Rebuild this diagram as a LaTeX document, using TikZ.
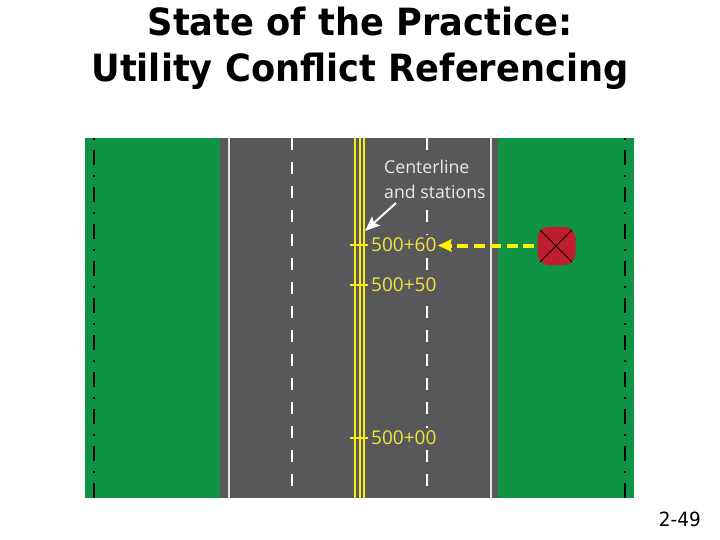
\documentclass[tikz,border=0pt]{standalone}
\usepackage{fontspec}
\setmainfont{DejaVu Sans}
\newfontfamily\condfont[FakeStretch=0.94]{DejaVu Sans}
\newfontfamily\labelfont{Open Sans}
\usetikzlibrary{arrows.meta}
\definecolor{verge}{HTML}{0F9345}
\definecolor{asphalt}{HTML}{58585A}
\definecolor{stripe}{HTML}{F7EC13}
\definecolor{markyellow}{HTML}{F0E63A}
\definecolor{tag}{HTML}{BE1E2D}
\tikzset{
  titletext/.style={font=\condfont\fontsize{37.5}{40}\selectfont\bfseries,text=black,inner sep=0pt,anchor=base},
  whitetext/.style={font=\labelfont\fontsize{17.7}{25}\selectfont,text=white!92!black,inner sep=0pt,align=left,anchor=west,fill=asphalt},
  stationtext/.style={font=\labelfont\fontsize{19}{20}\selectfont,text=markyellow,inner sep=0pt,anchor=west,fill=asphalt,minimum height=21pt},
  edgeline/.style={draw=white!90!black,line width=2pt},
  lanedash/.style={draw=white,line width=2.4pt,dash pattern=on 12pt off 12pt},
  rowline/.style={draw=black,line width=2pt,dash pattern=on 15pt off 10pt on 2pt off 10pt,dash phase=25pt},
  cline/.style={draw=stripe,line width=2.2pt},
  tick/.style={draw=stripe,line width=2pt},
}
\begin{document}
\begin{tikzpicture}[x=1pt,y=-1pt]
\useasboundingbox (0,0) rectangle (720,540);
\fill[white] (0,0) rectangle (720,540);
\node[titletext] (t1) at (360,36) {State of the Practice:};
\node[titletext] (t2) at (360,82) {Utility Conflict Referencing};
\fill[verge] (85,138) rectangle (634,498);
\fill[asphalt] (220,138) rectangle (498,498);
\draw[edgeline] (229,138) -- (229,498);
\draw[edgeline] (491,138) -- (491,498);
\draw[lanedash] (292,138) -- (292,498);
\draw[lanedash] (427,138) -- (427,498);
\draw[rowline] (93.7,138) -- (93.7,498);
\draw[rowline] (625.3,138) -- (625.3,498);
\foreach \x in {355,359.7,364.3} \draw[cline] (\x,138) -- (\x,498);
\foreach \y in {245,285,438} \draw[tick] (350,\y) -- (368,\y);
\node[stationtext] (s1) at (371,245) {500+60};
\node[stationtext] (s2) at (371,285) {500+50};
\node[stationtext] (s3) at (371,438) {500+00};
\node[whitetext] (lbl) at (384,179) {Centerline\\and stations};
\coordinate (arrowtail) at (396,203);
\coordinate (arrowtip) at (365,231);
\draw[draw=white,line width=2pt,-{Stealth[length=15pt,width=12pt,inset=3pt]}] (arrowtail) -- (arrowtip);
\node[fill=tag,minimum size=38pt,rounded corners=11pt,inner sep=0pt] (conflict) at (556.5,246) {};
\coordinate (xa) at (540,230);
\coordinate (xb) at (572,262);
\coordinate (xc) at (572,230);
\coordinate (xd) at (540,262);
\draw[black,line width=1pt] (xa) -- (xb);
\draw[black,line width=1pt] (xc) -- (xd);
\coordinate (dashend) at (534,245.5);
\coordinate (dashtip) at (438,245.5);
\draw[yellow,line width=4pt,dash pattern=on 11pt off 5.5pt] (dashend) -- (450,245.5);
\fill[yellow] (dashtip) -- (452,239) .. controls (450,243) and (450,248) .. (452,252) -- cycle;
\node[font=\condfont\fontsize{19.6}{22}\selectfont,inner sep=0pt,anchor=base east] (pg) at (701,526) {2-49};
\end{tikzpicture}
\end{document}
